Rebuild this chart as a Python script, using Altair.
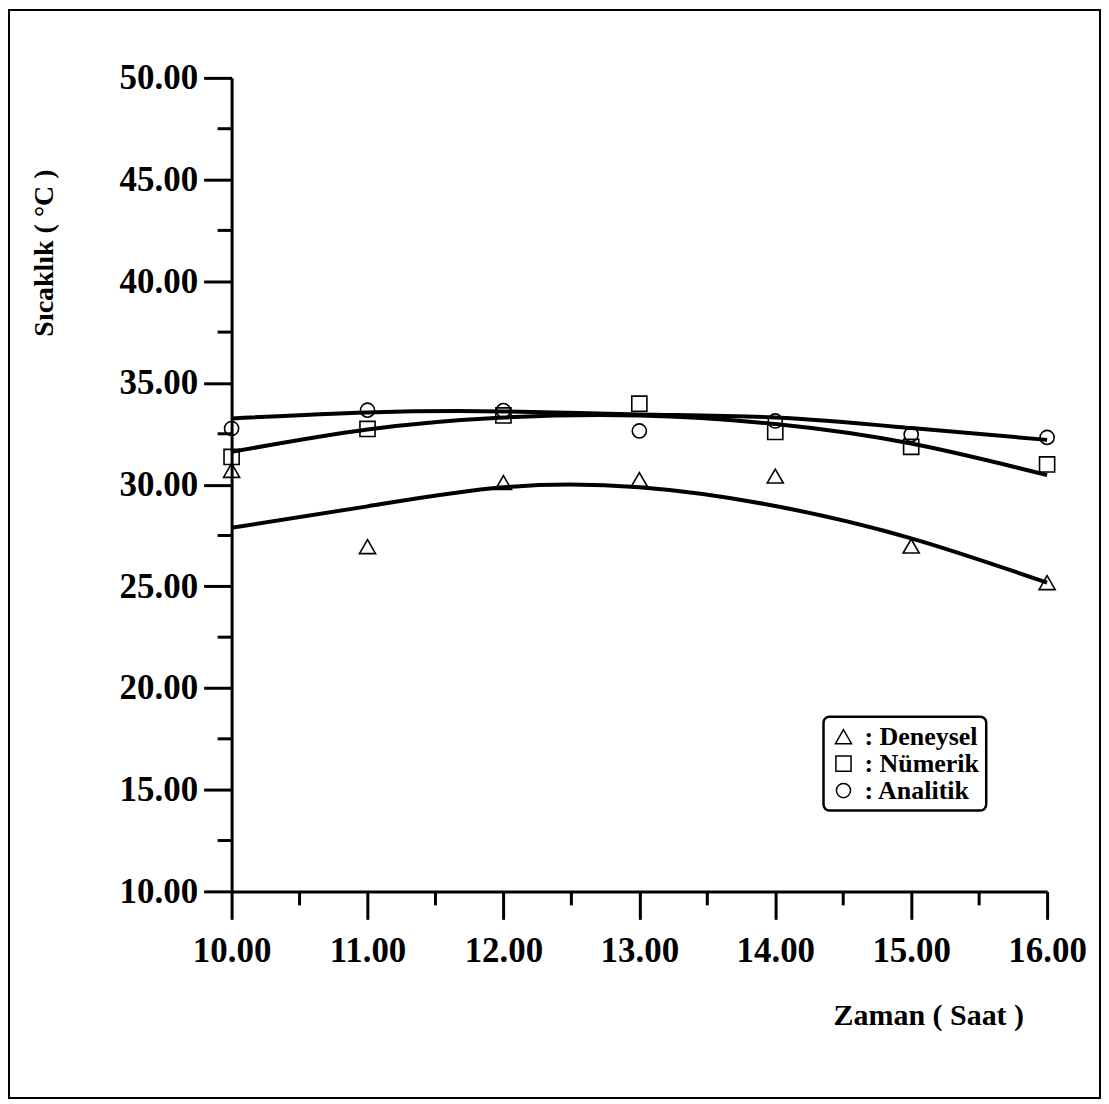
import altair as alt
import pandas as pd

# ---- data ----
hours = [10, 11, 12, 13, 14, 15, 16]
deneysel = [30.70, 26.95, 30.10, 30.25, 30.42, 26.98, 25.18]
numerik = [31.36, 32.74, 33.40, 33.98, 32.59, 31.86, 30.99]
analitik = [32.76, 33.66, 33.64, 32.64, 33.13, 32.46, 32.32]

# smooth fitted curves (read at each hour)
fit_deneysel = [27.88, 28.93, 29.87, 29.87, 28.95, 27.36, 25.18]
fit_numerik = [31.61, 32.71, 33.30, 33.40, 32.98, 32.02, 30.47]
fit_analitik = [33.25, 33.55, 33.60, 33.45, 33.30, 32.78, 32.20]

series = ["Deneysel", "Nümerik", "Analitik"]
shapes = ["triangle-up", "square", "circle"]
sizes = [260, 200, 180]

x_major = [10, 11, 12, 13, 14, 15, 16]
x_minor = [10.5, 11.5, 12.5, 13.5, 14.5, 15.5]
y_major = [10, 15, 20, 25, 30, 35, 40, 45, 50]
y_minor = [12.5, 17.5, 22.5, 27.5, 32.5, 37.5, 42.5, 47.5]

FONT = "Liberation Serif"

pts = pd.DataFrame(
    [{"x": h, "y": v, "s": "Deneysel"} for h, v in zip(hours, deneysel)]
    + [{"x": h, "y": v, "s": "Nümerik"} for h, v in zip(hours, numerik)]
    + [{"x": h, "y": v, "s": "Analitik"} for h, v in zip(hours, analitik)]
)
fits = pd.DataFrame(
    [{"x": h, "y": v, "s": "Deneysel"} for h, v in zip(hours, fit_deneysel)]
    + [{"x": h, "y": v, "s": "Nümerik"} for h, v in zip(hours, fit_numerik)]
    + [{"x": h, "y": v, "s": "Analitik"} for h, v in zip(hours, fit_analitik)]
)

xscale = alt.Scale(domain=[10, 16], nice=False, zero=False)
yscale = alt.Scale(domain=[10, 50], nice=False, zero=False)

x_axis = alt.Axis(
    values=x_major, format=".2f", grid=False, zindex=2,
    domainColor="black", domainWidth=3, tickColor="black", tickWidth=3, tickSize=28,
    labelFont=FONT, labelFontSize=35, labelFontWeight="bold", labelColor="black",
    labelPadding=14, labelFlush=False, labelOverlap=False,
    title="Zaman ( Saat )", titleFont=FONT, titleFontSize=30, titleFontWeight="bold",
    titleColor="black", titleX=698, titleY=124, titleAlign="center", titleBaseline="middle",
)
y_axis = alt.Axis(
    values=y_major, format=".2f", grid=False, zindex=2,
    domainColor="black", domainWidth=3, tickColor="black", tickWidth=3, tickSize=28,
    labelFont=FONT, labelFontSize=35, labelFontWeight="bold", labelColor="black",
    labelPadding=6, labelFlush=False, labelOverlap=False,
    title="Sıcaklık ( °C )", titleFont=FONT, titleFontSize=28, titleFontWeight="bold",
    titleColor="black", titleX=-187, titleY=175, titleAngle=270,
    titleAlign="center", titleBaseline="middle",
)

legend = alt.Legend(
    title=None, orient="none", legendX=593, legendY=640, zindex=2,
    labelExpr="': ' + datum.label",
    labelFont=FONT, labelFontSize=26, labelFontWeight="bold", labelColor="black",
    symbolStrokeColor="black", symbolStrokeWidth=1.5,
    symbolFillColor="white",
    strokeColor="black", cornerRadius=6, padding=7, rowPadding=1,
    labelOffset=8,
)

lines = alt.Chart(fits).mark_line(color="black", strokeWidth=4, interpolate="natural").encode(
    x=alt.X("x:Q", scale=xscale, axis=x_axis),
    y=alt.Y("y:Q", scale=yscale, axis=y_axis),
    detail="s:N",
)

points = alt.Chart(pts).mark_point(filled=False, color="black", strokeWidth=1.6, opacity=1).encode(
    x=alt.X("x:Q", scale=xscale, axis=x_axis),
    y=alt.Y("y:Q", scale=yscale, axis=y_axis),
    shape=alt.Shape("s:N", scale=alt.Scale(domain=series, range=shapes), sort=series, legend=legend),
    size=alt.Size("s:N", scale=alt.Scale(domain=series, range=sizes), sort=series, legend=legend),
)

xminor = alt.Chart(pd.DataFrame({"m": x_minor, "b": [10] * len(x_minor)})).mark_rule(
    color="black", strokeWidth=3, y2Offset=14
).encode(
    x=alt.X("m:Q", scale=xscale, axis=x_axis),
    y=alt.Y("b:Q", scale=yscale, axis=y_axis),
    y2="b:Q",
)
yminor = alt.Chart(pd.DataFrame({"m": y_minor, "b": [10] * len(y_minor)})).mark_rule(
    color="black", strokeWidth=3, x2Offset=-14
).encode(
    y=alt.Y("m:Q", scale=yscale, axis=y_axis),
    x=alt.X("b:Q", scale=xscale, axis=x_axis),
    x2="b:Q",
)

frame = alt.Chart(alt.Data(values=[{"a": 1}])).mark_rect(
    fillOpacity=0, stroke="black", strokeWidth=2
).encode(
    x=alt.value(-223), x2=alt.value(870), y=alt.value(-68), y2=alt.value(1022)
)

chart = alt.layer(lines, points, xminor, yminor, frame).properties(
    width=817, height=815, padding=0, background="white"
).configure_view(strokeWidth=0).configure_legend(strokeWidth=2.5)

chart.save("out.html", embed_options={"renderer": "svg", "actions": False})
